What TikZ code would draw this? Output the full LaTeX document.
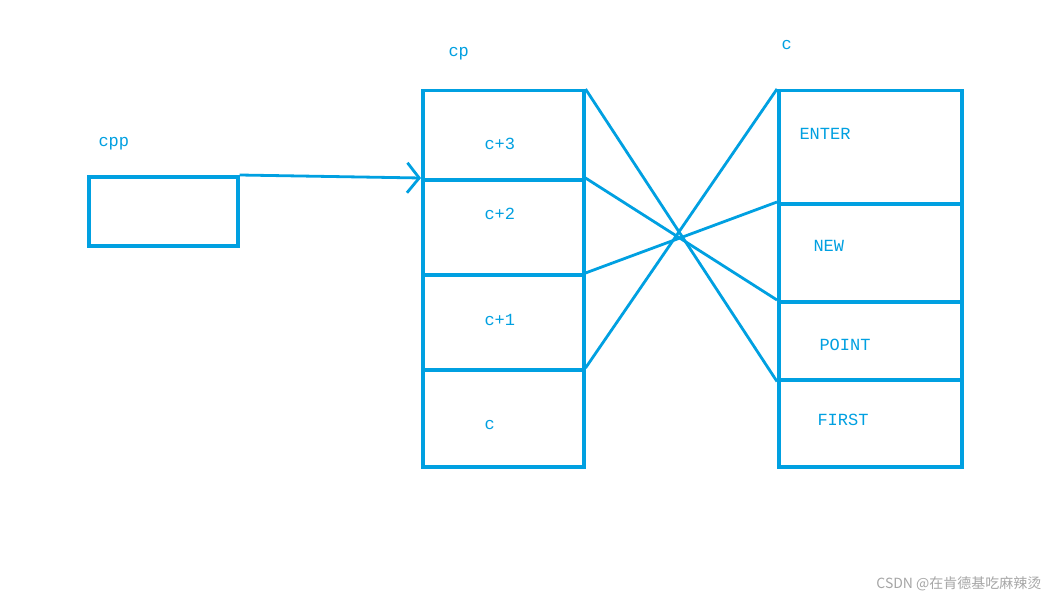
\documentclass[tikz,border=0pt]{standalone}
\usepackage{fontspec}
\setmainfont{Liberation Mono}
\newfontfamily\cjk{Noto Sans CJK SC}
\usetikzlibrary{arrows.meta}
\definecolor{bl}{RGB}{0,160,225}
\begin{document}
\begin{tikzpicture}[x=1pt,y=-1pt,
  box/.style={draw=bl,line width=3.5pt},
  lbl/.style={text=bl,font=\fontsize{17}{17}\selectfont,anchor=west},
  link/.style={draw=bl,line width=2.8pt}]
\useasboundingbox (0,0) rectangle (1056,604);
\fill[white] (0,0) rectangle (1056,604);
% cpp
\node[box,minimum width=149pt,minimum height=69pt,anchor=north west,inner sep=0] (cpp) at (87,175) {};
\node[lbl] (lcpp) at (95,144) {cpp};
% cp column
\foreach \n/\a/\b in {r1/89/178,r2/178/273,r3/273/368,r4/368/465}{
  \node[box,minimum width=161pt,minimum height={\b-\a},anchor=north west,inner sep=0] (\n) at (421,\a) {};}
\node[lbl] (lcp) at (445,54) {cp};
\node[lbl] (t1) at (481,144) {c+3};
\node[lbl] (t2) at (481,214) {c+2};
\node[lbl] (t3) at (481,320) {c+1};
\node[lbl] (t4) at (481,425) {c};
% c column
\foreach \n/\a/\b in {s1/89/202,s2/202/300,s3/300/378,s4/378/465}{
  \node[box,minimum width=183pt,minimum height={\b-\a},anchor=north west,inner sep=0] (\n) at (777,\a) {};}
\node[lbl] (lc) at (778,45) {c};
\node[lbl] (u1) at (796,134) {ENTER};
\node[lbl] (u2) at (810,246) {NEW};
\node[lbl] (u3) at (816,345) {POINT};
\node[lbl] (u4) at (814,420) {FIRST};
% links
\draw[link] (r1.north east) -- (s3.south west);
\draw[link] (r2.north east) -- (s3.north west);
\draw[link] (r3.north east) -- (s2.north west);
\draw[link] (r4.north east) -- (s1.north west);
% arrow
\draw[link,-{Straight Barb[length=12pt,width=30pt,line width=2.8pt]}] (cpp.north east) -- (r2.north west);
% watermark
\node[text=gray!70,font=\fontsize{14}{14}\selectfont\cjk,anchor=east] (wm) at (1045,584) {CSDN @在肯德基吃麻辣烫};
\end{tikzpicture}
\end{document}
